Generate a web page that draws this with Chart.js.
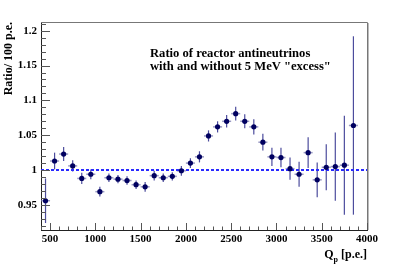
<!DOCTYPE html>
<html>
<head>
<meta charset="utf-8">
<script src="https://cdn.jsdelivr.net/npm/chart.js@4.4.1/dist/chart.umd.min.js"></script>
<style>
  html, body { margin: 0; padding: 0; background: #fff; }
</style>
</head>
<body>
<canvas id="ratioChart" width="407" height="270"></canvas>
<script>
// bin centres in p.e., 100 p.e. bins
const binCenters = [450, 550, 650, 750, 850, 950, 1050, 1150, 1250, 1350, 1450, 1550,
  1650, 1750, 1850, 1950, 2050, 2150, 2250, 2350, 2450, 2550, 2650, 2750, 2850, 2950,
  3050, 3150, 3250, 3350, 3450, 3550, 3650, 3750, 3850];
const ratio = [0.956, 1.013, 1.023, 1.006, 0.988, 0.994, 0.969, 0.989, 0.987, 0.985, 0.979, 0.976,
  0.992, 0.989, 0.991, 0.999, 1.010, 1.019, 1.049, 1.062, 1.070, 1.081, 1.070, 1.062, 1.040, 1.019,
  1.018, 1.002, 0.994, 1.025, 0.986, 1.004, 1.005, 1.007, 1.064];
const ratioErr = [0.032, 0.012, 0.010, 0.008, 0.008, 0.007, 0.007, 0.006, 0.006, 0.006, 0.006, 0.007,
  0.007, 0.006, 0.006, 0.007, 0.007, 0.008, 0.008, 0.008, 0.009, 0.010, 0.010, 0.011, 0.012, 0.013,
  0.014, 0.016, 0.018, 0.022, 0.025, 0.033, 0.049, 0.071, 0.128];
const binHalfWidth = 50;
const refLevel = 1;
const xTicks = [500, 1000, 1500, 2000, 2500, 3000, 3500, 4000];
const yTicks = [0.95, 1, 1.05, 1.1, 1.15, 1.2];
const xRange = [400, 4000];
const yRange = [0.914, 1.2125];
const titleLines = ['Ratio of reactor antineutrinos', 'with and without 5 MeV "excess"'];

const SERIF = "'Liberation Serif', 'DejaVu Serif', serif";

// vertical + horizontal error bars, drawn before the markers
const errorBars = {
  id: 'errorBars',
  beforeDatasetsDraw(chart) {
    const { ctx, scales: { x, y }, chartArea } = chart;
    ctx.save();
    ctx.beginPath();
    ctx.rect(chartArea.left, chartArea.top, chartArea.width, chartArea.height);
    ctx.clip();
    binCenters.forEach((c, i) => {
      const px = x.getPixelForValue(c);
      const py = y.getPixelForValue(ratio[i]);
      ctx.strokeStyle = 'rgba(120,120,175,0.75)';
      ctx.lineWidth = 1.5;
      ctx.beginPath();
      ctx.moveTo(x.getPixelForValue(c - binHalfWidth), py);
      ctx.lineTo(x.getPixelForValue(c + binHalfWidth), py);
      ctx.stroke();
      ctx.strokeStyle = 'rgba(45,45,140,0.85)';
      ctx.lineWidth = 1.2;
      ctx.beginPath();
      ctx.moveTo(px, y.getPixelForValue(ratio[i] + ratioErr[i]));
      ctx.lineTo(px, y.getPixelForValue(ratio[i] - ratioErr[i]));
      ctx.stroke();
    });
    ctx.restore();
  }
};

// ROOT-style frame, inward ticks and the texts
const frameAndText = {
  id: 'frameAndText',
  afterDraw(chart) {
    const { ctx, scales: { x, y }, chartArea: a } = chart;
    ctx.save();
    ctx.lineWidth = 1;
    // top / right frame
    ctx.strokeStyle = '#777';
    ctx.beginPath();
    ctx.moveTo(a.left, a.top + 0.5);
    ctx.lineTo(a.right + 0.5, a.top + 0.5);
    ctx.lineTo(a.right + 0.5, a.bottom);
    ctx.stroke();
    ctx.strokeStyle = '#bbb';
    ctx.beginPath();
    ctx.moveTo(a.right + 1.5, a.top + 1);
    ctx.lineTo(a.right + 1.5, a.bottom);
    ctx.stroke();

    // y ticks (major every 0.05, minor every 0.01)
    ctx.strokeStyle = '#555';
    for (let k = Math.ceil(yRange[0] * 100); k <= Math.floor(yRange[1] * 100); k++) {
      const v = k / 100;
      const py = Math.round(y.getPixelForValue(v)) + 0.5;
      const major = k % 5 === 0;
      ctx.beginPath();
      ctx.moveTo(a.left, py);
      ctx.lineTo(a.left + (major ? 9 : 5), py);
      ctx.stroke();
    }
    // x ticks (major every 500, minor every 100)
    for (let v = Math.ceil(xRange[0] / 100) * 100; v <= xRange[1]; v += 100) {
      const px = Math.round(x.getPixelForValue(v)) + 0.5;
      const major = v % 500 === 0;
      ctx.beginPath();
      ctx.moveTo(px, a.bottom);
      ctx.lineTo(px, a.bottom - (major ? 7 : 3.5));
      ctx.stroke();
    }

    ctx.fillStyle = '#000';
    // legend text inside the frame
    ctx.font = `bold 12.6px ${SERIF}`;
    ctx.textAlign = 'left';
    ctx.textBaseline = 'alphabetic';
    ctx.fillText(titleLines[0], 150, 57);
    ctx.fillText(titleLines[1], 150, 70);

    // y title, aligned to the top end of the axis
    ctx.save();
    ctx.translate(12, a.top);
    ctx.rotate(-Math.PI / 2);
    ctx.textAlign = 'right';
    ctx.font = `bold 12px ${SERIF}`;
    ctx.fillText('Ratio/ 100 p.e.', 0, 0);
    ctx.restore();

    // x title with subscript, aligned to the right end
    ctx.textAlign = 'left';
    ctx.font = `bold 12px ${SERIF}`;
    const rest = ' [p.e.]';
    const wQ = ctx.measureText('Q').width;
    const wRest = ctx.measureText(rest).width;
    ctx.font = `bold 8px ${SERIF}`;
    const wP = ctx.measureText('p').width;
    const x0 = a.right - (wQ + wP + wRest);
    ctx.font = `bold 12px ${SERIF}`;
    ctx.fillText('Q', x0, 258);
    ctx.fillText(rest, x0 + wQ + wP, 258);
    ctx.font = `bold 8px ${SERIF}`;
    ctx.fillText('p', x0 + wQ, 262);
    ctx.restore();
  }
};

new Chart(document.getElementById('ratioChart'), {
  type: 'scatter',
  data: {
    datasets: [
      {
        type: 'line',
        data: [{ x: xRange[0], y: refLevel }, { x: xRange[1], y: refLevel }],
        borderColor: '#2a2aff',
        borderWidth: 2,
        borderDash: [3, 2],
        pointRadius: 0,
        order: 2
      },
      {
        data: binCenters.map((c, i) => ({ x: c, y: ratio[i] })),
        pointRadius: 2.6,
        pointBackgroundColor: '#000060',
        pointBorderColor: '#000060',
        pointBorderWidth: 0,
        order: 1
      }
    ]
  },
  options: {
    responsive: false,
    animation: false,
    events: [],
    layout: { padding: { top: 22, right: 40, left: 0, bottom: 0 } },
    plugins: { legend: { display: false }, tooltip: { enabled: false } },
    scales: {
      x: {
        type: 'linear',
        min: xRange[0],
        max: xRange[1],
        afterFit: s => { s.height = 40; },
        afterBuildTicks: s => { s.ticks = xTicks.map(v => ({ value: v })); },
        grid: { display: false, drawTicks: false },
        border: { display: true, color: '#222', width: 1 },
        ticks: {
          padding: 3,
          color: '#000',
          maxRotation: 0,
          autoSkip: false,
          font: { family: SERIF, size: 11, weight: 'bold' },
          callback: v => String(v)
        }
      },
      y: {
        type: 'linear',
        min: yRange[0],
        max: yRange[1],
        afterFit: s => { s.width = 41; },
        afterBuildTicks: s => { s.ticks = yTicks.map(v => ({ value: v })); },
        grid: { display: false, drawTicks: false },
        border: { display: true, color: '#222', width: 1 },
        ticks: {
          padding: 4,
          color: '#000',
          autoSkip: false,
          font: { family: SERIF, size: 11, weight: 'bold' },
          callback: v => String(+v.toFixed(2))
        }
      }
    }
  },
  plugins: [errorBars, frameAndText]
});
</script>
</body>
</html>
